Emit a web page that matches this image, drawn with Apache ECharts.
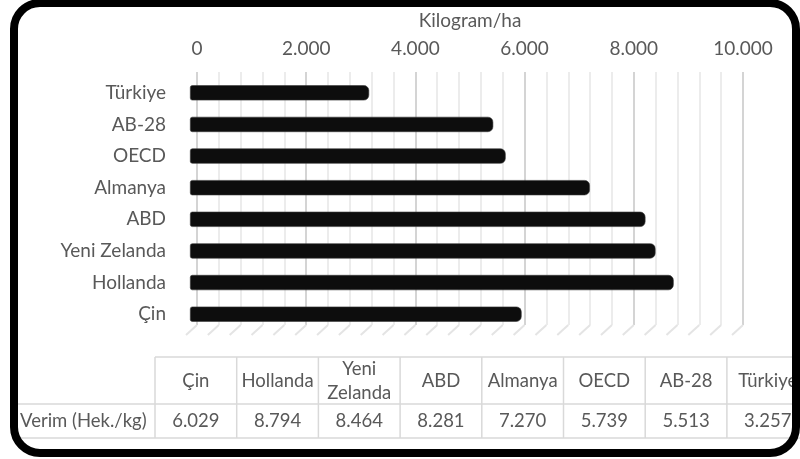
<!DOCTYPE html>
<html>
<head>
<meta charset="utf-8">
<script src="https://cdn.jsdelivr.net/npm/echarts@6/dist/echarts.min.js"></script>
<style>
  html, body { margin: 0; padding: 0; background: #fff; }
  #chart { width: 800px; height: 459px; }
</style>
</head>
<body>
<div id="chart"></div>
<script>
// data, bottom bar first (same order as the table)
const categories = ['Çin', 'Hollanda', 'Yeni Zelanda', 'ABD', 'Almanya', 'OECD', 'AB-28', 'Türkiye']
const yieldValues = [6029, 8794, 8464, 8281, 7270, 5739, 5513, 3257]
const axisTicks = [0, 2000, 4000, 6000, 8000, 10000]
const rowLabel = 'Verim (Hek./kg)'
const axisTitle = 'Kilogram/ha'

const textColor = '#595959'
const lineColor = '#d9d9d9'
const font = 'Lato, "Open Sans", sans-serif'
const fontSize = 19
const tableFontSize = 18.5

function fmt(v) {
  return String(v).replace(/\B(?=(\d{3})+(?!\d))/g, '.')
}

const chart = echarts.init(document.getElementById('chart'))

// floor lines: one per minor gridline of the back wall
const minorStep = (axisTicks[1] - axisTicks[0]) / 5
const floorData = []
for (let v = axisTicks[0]; v <= axisTicks[axisTicks.length - 1]; v += minorStep) {
  floorData.push([v, 0])
}

// data table below the plot
const tableLeft = 155
const colW = 81.7
const headTop = 357
const rowTop = 404
const rowBottom = 438
const tableRight = tableLeft + colW * categories.length
const tFont = tableFontSize + 'px ' + font
const table = []
table.push({ type: 'line', shape: { x1: tableLeft, y1: headTop, x2: tableRight, y2: headTop }, style: { stroke: lineColor, lineWidth: 1.5 } })
table.push({ type: 'line', shape: { x1: 14, y1: rowTop, x2: tableRight, y2: rowTop }, style: { stroke: lineColor, lineWidth: 1.5 } })
table.push({ type: 'line', shape: { x1: 14, y1: rowBottom, x2: tableRight, y2: rowBottom }, style: { stroke: lineColor, lineWidth: 1.5 } })
for (let i = 0; i <= categories.length; i++) {
  const x = tableLeft + colW * i
  table.push({ type: 'line', shape: { x1: x, y1: headTop, x2: x, y2: rowBottom }, style: { stroke: lineColor, lineWidth: 1.5 } })
}
categories.forEach((c, i) => {
  const cx = tableLeft + colW * (i + 0.5)
  table.push({
    type: 'text', x: cx, y: (headTop + rowTop) / 2 + 1,
    style: {
      text: c.length > 9 ? c.replace(' ', '\n') : c,
      fill: textColor, font: tFont, align: 'center', verticalAlign: 'middle', lineHeight: 24
    }
  })
  table.push({
    type: 'text', x: cx, y: (rowTop + rowBottom) / 2,
    style: { text: fmt(yieldValues[i]), fill: textColor, font: tFont, align: 'center', verticalAlign: 'middle' }
  })
})
table.push({
  type: 'text', x: 20, y: (rowTop + rowBottom) / 2,
  style: { text: rowLabel, fill: textColor, font: tFont, align: 'left', verticalAlign: 'middle' }
})

const option = {
  animation: false,
  grid: [
    // back wall (gridlines + top axis)
    { left: 197, width: 546, top: 72, bottom: 134 },
    // front plane (bars)
    { left: 190, width: 550, top: 77, bottom: 129 }
  ],
  xAxis: [
    {
      gridIndex: 0,
      type: 'value',
      position: 'top',
      min: axisTicks[0],
      max: axisTicks[axisTicks.length - 1],
      interval: axisTicks[1] - axisTicks[0],
      name: axisTitle,
      nameLocation: 'middle',
      nameGap: 42,
      nameTextStyle: { color: textColor, fontSize: fontSize, fontFamily: font },
      axisLine: { show: false },
      axisTick: { show: false },
      axisLabel: { color: textColor, fontSize: fontSize, fontFamily: font, margin: 14, formatter: fmt },
      splitLine: { show: true, lineStyle: { color: '#d4d4d4', width: 2 } },
      minorTick: { show: false, splitNumber: 5 },
      minorSplitLine: { show: true, lineStyle: { color: '#ececec', width: 2 } }
    },
    {
      gridIndex: 1,
      type: 'value',
      min: axisTicks[0],
      max: axisTicks[axisTicks.length - 1],
      show: false
    }
  ],
  yAxis: [
    { gridIndex: 0, type: 'value', min: 0, max: 1, show: false },
    {
      gridIndex: 1,
      type: 'category',
      data: categories,
      axisLine: { show: false },
      axisTick: { show: false },
      axisLabel: { color: textColor, fontSize: fontSize, fontFamily: font, margin: 24 }
    }
  ],
  series: [
    {
      type: 'custom',
      xAxisIndex: 0,
      yAxisIndex: 0,
      data: floorData,
      silent: true,
      renderItem: (params, api) => {
        const p = api.coord([api.value(0), api.value(1)])
        return {
          type: 'line',
          shape: { x1: p[0], y1: p[1], x2: p[0] - 11, y2: p[1] + 10 },
          style: { stroke: '#e4e4e4', lineWidth: 2 }
        }
      }
    },
    {
      type: 'bar',
      xAxisIndex: 1,
      yAxisIndex: 1,
      data: yieldValues,
      barWidth: '48%',
      itemStyle: {
        color: '#0d0d0d',
        borderColor: '#3a3a3a',
        borderWidth: 0.6,
        borderRadius: [2, 5, 5, 2]
      }
    }
  ],
  graphic: [
    ...table,
    {
      type: 'rect',
      z: 100,
      shape: { x: 14, y: 3, width: 782, height: 450, r: 26 },
      style: { fill: 'none', stroke: '#000', lineWidth: 8 }
    }
  ]
}

chart.setOption(option)
</script>
</body>
</html>
